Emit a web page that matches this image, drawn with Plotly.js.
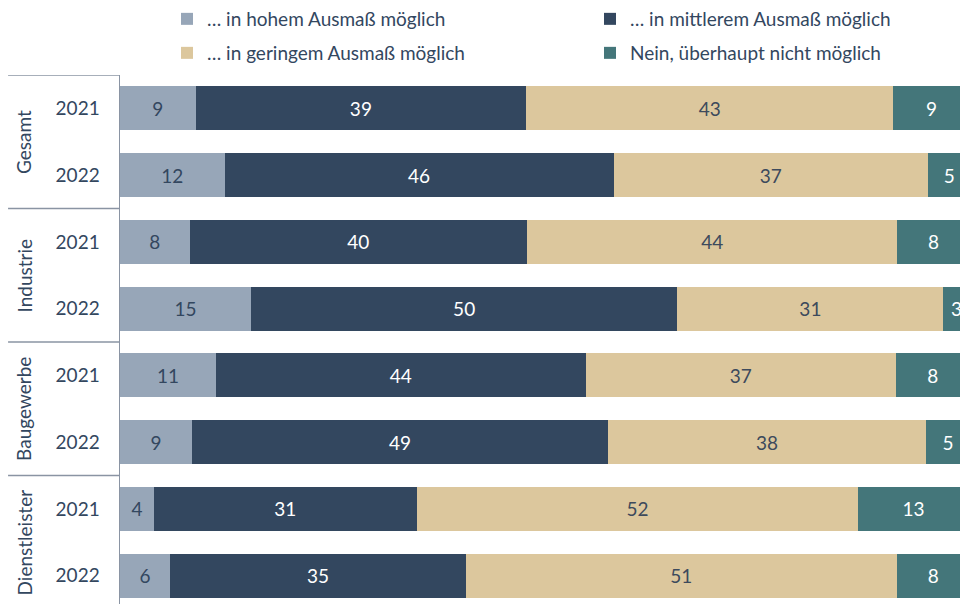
<!DOCTYPE html>
<html>
<head>
<meta charset="utf-8">
<script src="https://cdn.plot.ly/plotly-3.0.1.min.js"></script>
<style>
html, body { margin: 0; padding: 0; overflow: hidden; background: #ffffff; }
#chart { width: 968px; height: 612px; }
</style>
</head>
<body>
<div id="chart"></div>
<script>
const groups = ['Gesamt', 'Industrie', 'Baugewerbe', 'Dienstleister'];
const years = ['2021', '2022', '2021', '2022', '2021', '2022', '2021', '2022'];
const seriesNames = ['… in hohem Ausmaß möglich', '… in mittlerem Ausmaß möglich', '… in geringem Ausmaß möglich', 'Nein, überhaupt nicht möglich'];
// segment lengths as drawn (percent)
const hoch = [8.9, 12.3, 8.2, 15.4, 11.3, 8.5, 4.0, 5.9];
const mittel = [38.9, 45.8, 39.7, 50.2, 43.5, 48.9, 30.9, 34.8];
const gering = [43.2, 37.0, 43.6, 31.3, 36.5, 37.5, 52.0, 50.7];
const nein = [9.0, 5.0, 8.5, 3.1, 8.7, 5.1, 13.0, 8.6];
// printed labels
const hochLbl = ['9', '12', '8', '15', '11', '9', '4', '6'];
const mittelLbl = ['39', '46', '40', '50', '44', '49', '31', '35'];
const geringLbl = ['43', '37', '44', '31', '37', '38', '52', '51'];
const neinLbl = ['9', '5', '8', '3', '8', '5', '13', '8'];

const colors = ['#97a6b8', '#33475f', '#dcc79d', '#44767a'];
const textColors = ['#33475f', '#ffffff', '#3d4a5c', '#ffffff'];
const legendIds = ['legend', 'legend2', 'legend3', 'legend4'];
const FONT = 'Lato, "Open Sans", sans-serif';
const navy = '#33475f';
const W = 968, H = 612;

const rows = years.map((_, i) => i);
const values = [hoch, mittel, gering, nein];
const labels = [hochLbl, mittelLbl, geringLbl, neinLbl];

const traces = values.map((v, k) => ({
  type: 'bar',
  orientation: 'h',
  name: seriesNames[k],
  x: v,
  y: rows,
  text: labels[k],
  textposition: 'inside',
  insidetextanchor: 'middle',
  textangle: 0,
  constraintext: 'none',
  textfont: { family: FONT, size: 19, color: textColors[k] },
  marker: { color: colors[k], line: { width: 0 } },
  legend: legendIds[k],
  hoverinfo: 'skip'
}));

const lineColor = '#8a94a3';
const shapes = [-0.5, 1.5, 3.5, 5.5].map(yv => ({
  type: 'line', xref: 'paper', yref: 'y',
  x0: -0.132, x1: 0, y0: yv, y1: yv,
  line: { color: lineColor, width: 1.5 }
}));

const annotations = groups.map((g, i) => ({
  text: g, xref: 'paper', yref: 'y',
  x: -0.113, y: 2 * i + 0.5,
  textangle: -90, showarrow: false,
  xanchor: 'center', yanchor: 'middle',
  font: { family: FONT, size: 19, color: navy }
}));

function legendAt(px, pyTop) {
  return {
    orientation: 'h', xref: 'container', yref: 'container',
    x: px / W, y: 1 - pyTop / H, xanchor: 'left', yanchor: 'top',
    font: { family: FONT, size: 19, color: navy },
    bgcolor: 'rgba(0,0,0,0)'
  };
}

const layout = {
  width: W, height: H,
  margin: { l: 120, r: 0, t: 75, b: 3, autoexpand: false },
  paper_bgcolor: '#ffffff', plot_bgcolor: '#ffffff',
  barmode: 'stack',
  bargap: 0.34,
  font: { family: FONT, size: 19, color: navy },
  xaxis: { range: [0, 99.8], visible: false, fixedrange: true },
  yaxis: {
    range: [7.5, -0.5],
    tickvals: rows, ticktext: years,
    showline: true, linecolor: lineColor, linewidth: 1.5,
    showgrid: false, zeroline: false, ticks: '',
    ticklabelstandoff: 15,
    tickfont: { family: FONT, size: 19, color: navy },
    fixedrange: true
  },
  legend: legendAt(167, 0),
  legend2: legendAt(590, 0),
  legend3: legendAt(167, 34),
  legend4: legendAt(590, 34),
  shapes: shapes,
  annotations: annotations,
  showlegend: true
};

Plotly.newPlot('chart', traces, layout, { displayModeBar: false, staticPlot: true });
</script>
</body>
</html>
